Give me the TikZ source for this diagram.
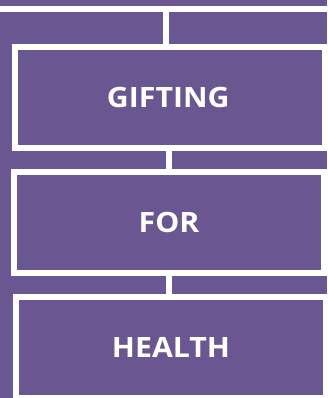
\documentclass[tikz,border=0pt]{standalone}
\usepackage{fontspec}
\setmainfont{Open Sans}[FakeStretch=1.08]
\usetikzlibrary{positioning}
\definecolor{plum}{RGB}{106,87,145}
\tikzset{
  wordbox/.style={
    % The shape:
    rectangle,
    % The size:
    minimum width=310pt,
    minimum height=101pt,
    inner sep=0pt,
    % The border:
    line width=6pt,
    draw=white,
    % The filling:
    fill=plum,
    % The text:
    text=white,
    font=\fontsize{28}{30}\selectfont\bfseries},
  link/.style={
    % The line:
    line width=6pt,
    draw=white}
}

\begin{document}
\begin{tikzpicture}[x=1pt,y=-1pt]
  \fill[plum] (0,0) rectangle (327,398);
  \useasboundingbox (0,0) rectangle (327,398);

  % The boxes:
  \node (gifting) [wordbox] at (170,97.5)  {\kern-3.5pt GIFTING};
  \node (for)     [wordbox] at (169,222.5) {FOR};
  \node (health)  [wordbox] at (171,347.5) {HEALTH};

  % The links:
  \coordinate (topleft)  at (0,9.5);
  \coordinate (topright) at (327,9.5);
  \coordinate (top)      at (166,9.5);
  \draw[link] (topleft) -- (topright);
  \draw[link] (top) -- (top |- gifting.north);
  \draw[link] (for.north) -- (for.north |- gifting.south);
  \draw[link] (for.south) -- (for.south |- health.north);
\end{tikzpicture}
\end{document}
